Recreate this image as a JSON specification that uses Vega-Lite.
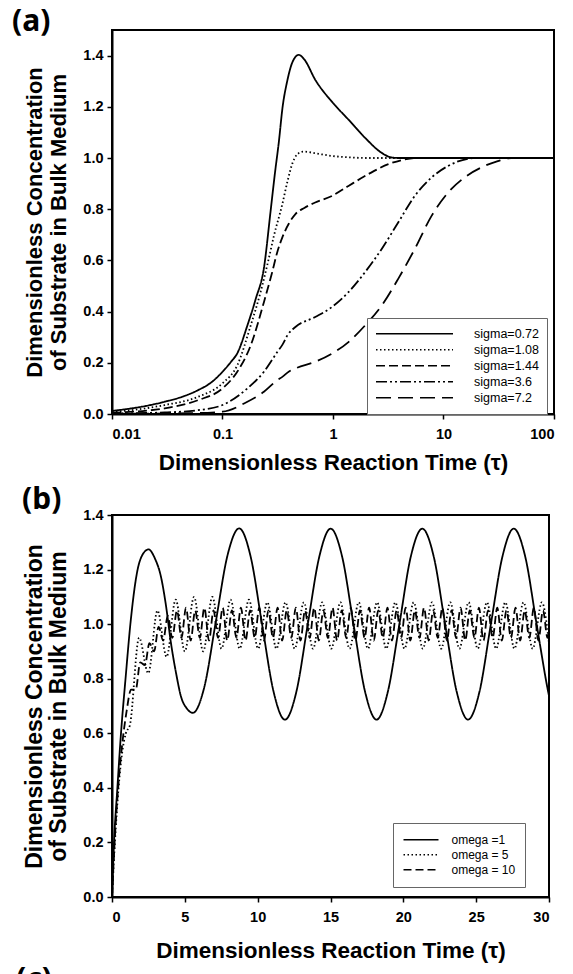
{
  "$schema": "https://vega.github.io/schema/vega-lite/v6.json",
  "background": "white",
  "padding": {"left": 11, "top": 6, "right": 5, "bottom": 5},
  "config": {
    "font": "Arial",
    "view": {"stroke": "black", "strokeWidth": 2},
    "axis": {
      "labelFont": "Arial", "labelFontWeight": "bold", "labelFontSize": 14.5, "labelColor": "black",
      "titleFont": "Arial", "titleFontWeight": "bold", "titleColor": "black",
      "tickColor": "black", "tickWidth": 1.5, "tickSize": 5,
      "domainColor": "black", "domainWidth": 2, "grid": false
    },
    "axisX": {"labelPadding": 8, "titleFontSize": 22.5},
    "axisY": {"labelPadding": 4, "titlePadding": 12, "titleFontSize": 22, "titleLineHeight": 24},
    "legend": {
      "orient": "none", "title": null, "symbolType": "stroke", "symbolStrokeColor": "black",
      "symbolStrokeWidth": 1.7, "labelFont": "Arial", "labelColor": "black",
      "labelFontWeight": "normal", "strokeColor": "#666666", "fillColor": "white", "rowPadding": 0
    },
    "title": {"font": "Noto Sans", "fontSize": 30, "fontWeight": "bold", "color": "black", "anchor": "start", "frame": "group", "baseline": "alphabetic", "offset": 0}
  },
  "bounds": "flush",
  "spacing": 101,
  "resolve": {"scale": {"strokeDash": "independent", "x": "independent", "y": "independent"}, "legend": {"strokeDash": "independent"}},
  "vconcat": [
    {
      "title": {"text": "(a)", "dx": -100, "dy": 11},
      "width": 442,
      "height": 384,
      "data": {"values": [
        {"s": "sigma=0.72", "t": 0.01, "v": 0.012},
        {"s": "sigma=0.72", "t": 0.02, "v": 0.031},
        {"s": "sigma=0.72", "t": 0.03, "v": 0.048},
        {"s": "sigma=0.72", "t": 0.045, "v": 0.07},
        {"s": "sigma=0.72", "t": 0.06, "v": 0.093},
        {"s": "sigma=0.72", "t": 0.08, "v": 0.125},
        {"s": "sigma=0.72", "t": 0.1, "v": 0.165},
        {"s": "sigma=0.72", "t": 0.12, "v": 0.205},
        {"s": "sigma=0.72", "t": 0.136, "v": 0.237},
        {"s": "sigma=0.72", "t": 0.168, "v": 0.346},
        {"s": "sigma=0.72", "t": 0.2, "v": 0.45},
        {"s": "sigma=0.72", "t": 0.237, "v": 0.57},
        {"s": "sigma=0.72", "t": 0.272, "v": 0.79},
        {"s": "sigma=0.72", "t": 0.3, "v": 0.95},
        {"s": "sigma=0.72", "t": 0.323, "v": 1.06},
        {"s": "sigma=0.72", "t": 0.35, "v": 1.2},
        {"s": "sigma=0.72", "t": 0.385, "v": 1.3},
        {"s": "sigma=0.72", "t": 0.43, "v": 1.375},
        {"s": "sigma=0.72", "t": 0.49, "v": 1.403},
        {"s": "sigma=0.72", "t": 0.55, "v": 1.385},
        {"s": "sigma=0.72", "t": 0.69, "v": 1.306},
        {"s": "sigma=0.72", "t": 1.0, "v": 1.215},
        {"s": "sigma=0.72", "t": 1.38, "v": 1.15},
        {"s": "sigma=0.72", "t": 1.95, "v": 1.079},
        {"s": "sigma=0.72", "t": 2.76, "v": 1.02},
        {"s": "sigma=0.72", "t": 3.4, "v": 1.002},
        {"s": "sigma=0.72", "t": 4.0, "v": 1.0},
        {"s": "sigma=0.72", "t": 10.0, "v": 1.0},
        {"s": "sigma=0.72", "t": 100.0, "v": 1.0},
        {"s": "sigma=1.08", "t": 0.01, "v": 0.008},
        {"s": "sigma=1.08", "t": 0.02, "v": 0.022},
        {"s": "sigma=1.08", "t": 0.03, "v": 0.035},
        {"s": "sigma=1.08", "t": 0.06, "v": 0.067},
        {"s": "sigma=1.08", "t": 0.1, "v": 0.12},
        {"s": "sigma=1.08", "t": 0.136, "v": 0.19},
        {"s": "sigma=1.08", "t": 0.18, "v": 0.346},
        {"s": "sigma=1.08", "t": 0.221, "v": 0.476},
        {"s": "sigma=1.08", "t": 0.26, "v": 0.6},
        {"s": "sigma=1.08", "t": 0.292, "v": 0.696},
        {"s": "sigma=1.08", "t": 0.348, "v": 0.82},
        {"s": "sigma=1.08", "t": 0.385, "v": 0.904},
        {"s": "sigma=1.08", "t": 0.43, "v": 0.98},
        {"s": "sigma=1.08", "t": 0.474, "v": 1.014},
        {"s": "sigma=1.08", "t": 0.54, "v": 1.025},
        {"s": "sigma=1.08", "t": 0.7, "v": 1.018},
        {"s": "sigma=1.08", "t": 0.98, "v": 1.008},
        {"s": "sigma=1.08", "t": 1.5, "v": 1.002},
        {"s": "sigma=1.08", "t": 1.95, "v": 1.0},
        {"s": "sigma=1.08", "t": 100.0, "v": 1.0},
        {"s": "sigma=1.44", "t": 0.01, "v": 0.005},
        {"s": "sigma=1.44", "t": 0.03, "v": 0.022},
        {"s": "sigma=1.44", "t": 0.06, "v": 0.054},
        {"s": "sigma=1.44", "t": 0.1, "v": 0.1},
        {"s": "sigma=1.44", "t": 0.136, "v": 0.165},
        {"s": "sigma=1.44", "t": 0.18, "v": 0.268},
        {"s": "sigma=1.44", "t": 0.237, "v": 0.437},
        {"s": "sigma=1.44", "t": 0.28, "v": 0.55},
        {"s": "sigma=1.44", "t": 0.313, "v": 0.632},
        {"s": "sigma=1.44", "t": 0.348, "v": 0.69},
        {"s": "sigma=1.44", "t": 0.4, "v": 0.745},
        {"s": "sigma=1.44", "t": 0.457, "v": 0.781},
        {"s": "sigma=1.44", "t": 0.55, "v": 0.805},
        {"s": "sigma=1.44", "t": 0.69, "v": 0.826},
        {"s": "sigma=1.44", "t": 0.98, "v": 0.852},
        {"s": "sigma=1.44", "t": 1.38, "v": 0.891},
        {"s": "sigma=1.44", "t": 2.09, "v": 0.937},
        {"s": "sigma=1.44", "t": 3.17, "v": 0.976},
        {"s": "sigma=1.44", "t": 4.3, "v": 0.993},
        {"s": "sigma=1.44", "t": 5.5, "v": 1.0},
        {"s": "sigma=1.44", "t": 100.0, "v": 1.0},
        {"s": "sigma=3.6", "t": 0.01, "v": 0.002},
        {"s": "sigma=3.6", "t": 0.03, "v": 0.006},
        {"s": "sigma=3.6", "t": 0.06, "v": 0.015},
        {"s": "sigma=3.6", "t": 0.1, "v": 0.035},
        {"s": "sigma=3.6", "t": 0.168, "v": 0.1},
        {"s": "sigma=3.6", "t": 0.237, "v": 0.165},
        {"s": "sigma=3.6", "t": 0.313, "v": 0.242},
        {"s": "sigma=3.6", "t": 0.348, "v": 0.27},
        {"s": "sigma=3.6", "t": 0.39, "v": 0.31},
        {"s": "sigma=3.6", "t": 0.457, "v": 0.34},
        {"s": "sigma=3.6", "t": 0.69, "v": 0.379},
        {"s": "sigma=3.6", "t": 0.98, "v": 0.418},
        {"s": "sigma=3.6", "t": 1.38, "v": 0.476},
        {"s": "sigma=3.6", "t": 1.95, "v": 0.554},
        {"s": "sigma=3.6", "t": 2.76, "v": 0.645},
        {"s": "sigma=3.6", "t": 3.89, "v": 0.748},
        {"s": "sigma=3.6", "t": 5.5, "v": 0.852},
        {"s": "sigma=3.6", "t": 7.8, "v": 0.924},
        {"s": "sigma=3.6", "t": 11.0, "v": 0.969},
        {"s": "sigma=3.6", "t": 16.6, "v": 0.997},
        {"s": "sigma=3.6", "t": 20.0, "v": 1.0},
        {"s": "sigma=3.6", "t": 100.0, "v": 1.0},
        {"s": "sigma=7.2", "t": 0.01, "v": 0.001},
        {"s": "sigma=7.2", "t": 0.05, "v": 0.003},
        {"s": "sigma=7.2", "t": 0.1, "v": 0.009},
        {"s": "sigma=7.2", "t": 0.168, "v": 0.048},
        {"s": "sigma=7.2", "t": 0.237, "v": 0.087},
        {"s": "sigma=7.2", "t": 0.313, "v": 0.132},
        {"s": "sigma=7.2", "t": 0.348, "v": 0.145},
        {"s": "sigma=7.2", "t": 0.4, "v": 0.166},
        {"s": "sigma=7.2", "t": 0.457, "v": 0.178},
        {"s": "sigma=7.2", "t": 0.69, "v": 0.204},
        {"s": "sigma=7.2", "t": 0.98, "v": 0.236},
        {"s": "sigma=7.2", "t": 1.38, "v": 0.281},
        {"s": "sigma=7.2", "t": 1.95, "v": 0.346},
        {"s": "sigma=7.2", "t": 2.76, "v": 0.424},
        {"s": "sigma=7.2", "t": 3.89, "v": 0.528},
        {"s": "sigma=7.2", "t": 5.5, "v": 0.645},
        {"s": "sigma=7.2", "t": 7.8, "v": 0.774},
        {"s": "sigma=7.2", "t": 11.0, "v": 0.865},
        {"s": "sigma=7.2", "t": 15.5, "v": 0.924},
        {"s": "sigma=7.2", "t": 22.0, "v": 0.963},
        {"s": "sigma=7.2", "t": 31.0, "v": 0.988},
        {"s": "sigma=7.2", "t": 41.0, "v": 1.0},
        {"s": "sigma=7.2", "t": 100.0, "v": 1.0}
      ]},
      "mark": {"type": "line", "color": "black", "strokeWidth": 1.8, "interpolate": "monotone", "clip": true},
      "encoding": {
        "x": {"field": "t", "type": "quantitative",
          "scale": {"type": "log", "domain": [0.01, 100], "nice": false},
          "axis": {"values": [0.01, 0.1, 1, 10, 100], "format": "~g", "title": "Dimensionless Reaction Time (τ)", "titlePadding": 11}},
        "y": {"field": "v", "type": "quantitative",
          "scale": {"domain": [0, 1.5], "nice": false},
          "axis": {"values": [0, 0.2, 0.4, 0.6, 0.8, 1.0, 1.2, 1.4], "format": ".1f", "title": ["Dimensionless Concentration", "of Substrate in Bulk Medium"]}},
        "strokeDash": {"field": "s", "type": "nominal",
          "scale": {"domain": ["sigma=0.72", "sigma=1.08", "sigma=1.44", "sigma=3.6", "sigma=7.2"],
                    "range": [[1, 0], [1.5, 2.5], [9, 4], [11, 3, 2, 3, 2, 3], [15, 7]]},
          "legend": {"legendX": 255, "legendY": 288, "symbolSize": 5929, "clipHeight": 15.5, "padding": 8, "labelOffset": 20, "labelFontSize": 12.5}}
      }
    },
    {
      "title": {"text": "(b)", "dx": -90, "dy": 12},
      "width": 437,
      "height": 382,
      "data": {"values": [
        {"o": "omega =1", "t": 0, "v": 0},
        {"o": "omega =1", "t": 0.14, "v": 0.2},
        {"o": "omega =1", "t": 0.37, "v": 0.4},
        {"o": "omega =1", "t": 0.6, "v": 0.587},
        {"o": "omega =1", "t": 0.94, "v": 0.807},
        {"o": "omega =1", "t": 1.29, "v": 1.015},
        {"o": "omega =1", "t": 1.75, "v": 1.198},
        {"o": "omega =1", "t": 2.1, "v": 1.255},
        {"o": "omega =1", "t": 2.51, "v": 1.274},
        {"o": "omega =1", "t": 2.95, "v": 1.24},
        {"o": "omega =1", "t": 3.36, "v": 1.174},
        {"o": "omega =1", "t": 3.7, "v": 1.07},
        {"o": "omega =1", "t": 4.05, "v": 0.93},
        {"o": "omega =1", "t": 4.4, "v": 0.82},
        {"o": "omega =1", "t": 4.74, "v": 0.734},
        {"o": "omega =1", "t": 5.15, "v": 0.69},
        {"o": "omega =1", "t": 5.55, "v": 0.675},
        {"o": "omega =1", "t": 6.34, "v": 0.77},
        {"o": "omega =1", "t": 7.13, "v": 1.01},
        {"o": "omega =1", "t": 7.92, "v": 1.25},
        {"o": "omega =1", "t": 8.73, "v": 1.351},
        {"o": "omega =1", "t": 9.52, "v": 1.247},
        {"o": "omega =1", "t": 10.3, "v": 1.0},
        {"o": "omega =1", "t": 11.09, "v": 0.753},
        {"o": "omega =1", "t": 11.87, "v": 0.65},
        {"o": "omega =1", "t": 12.66, "v": 0.753},
        {"o": "omega =1", "t": 13.44, "v": 1.0},
        {"o": "omega =1", "t": 14.23, "v": 1.247},
        {"o": "omega =1", "t": 15.01, "v": 1.35},
        {"o": "omega =1", "t": 15.8, "v": 1.247},
        {"o": "omega =1", "t": 16.58, "v": 1.0},
        {"o": "omega =1", "t": 17.37, "v": 0.753},
        {"o": "omega =1", "t": 18.16, "v": 0.65},
        {"o": "omega =1", "t": 18.94, "v": 0.753},
        {"o": "omega =1", "t": 19.73, "v": 1.0},
        {"o": "omega =1", "t": 20.51, "v": 1.247},
        {"o": "omega =1", "t": 21.3, "v": 1.35},
        {"o": "omega =1", "t": 22.09, "v": 1.247},
        {"o": "omega =1", "t": 22.87, "v": 1.0},
        {"o": "omega =1", "t": 23.66, "v": 0.753},
        {"o": "omega =1", "t": 24.44, "v": 0.65},
        {"o": "omega =1", "t": 25.23, "v": 0.753},
        {"o": "omega =1", "t": 26.01, "v": 1.0},
        {"o": "omega =1", "t": 26.8, "v": 1.247},
        {"o": "omega =1", "t": 27.58, "v": 1.35},
        {"o": "omega =1", "t": 28.37, "v": 1.247},
        {"o": "omega =1", "t": 29.15, "v": 1.0},
        {"o": "omega =1", "t": 29.94, "v": 0.753},
        {"o": "omega =1", "t": 30, "v": 0.737},
        {"o": "omega = 5", "t": 0, "v": 0},
        {"o": "omega = 5", "t": 0.2, "v": 0.2},
        {"o": "omega = 5", "t": 0.45, "v": 0.4},
        {"o": "omega = 5", "t": 0.7, "v": 0.53},
        {"o": "omega = 5", "t": 0.95, "v": 0.6},
        {"o": "omega = 5", "t": 1.23, "v": 0.63},
        {"o": "omega = 5", "t": 1.86, "v": 0.95},
        {"o": "omega = 5", "t": 2.49, "v": 0.82},
        {"o": "omega = 5", "t": 3.12, "v": 1.05},
        {"o": "omega = 5", "t": 3.75, "v": 0.88},
        {"o": "omega = 5", "t": 4.37, "v": 1.09},
        {"o": "omega = 5", "t": 5.0, "v": 0.9},
        {"o": "omega = 5", "t": 5.63, "v": 1.1},
        {"o": "omega = 5", "t": 6.26, "v": 0.9},
        {"o": "omega = 5", "t": 6.89, "v": 1.1},
        {"o": "omega = 5", "t": 7.52, "v": 0.91},
        {"o": "omega = 5", "t": 8.14, "v": 1.09},
        {"o": "omega = 5", "t": 8.77, "v": 0.91},
        {"o": "omega = 5", "t": 9.4, "v": 1.09},
        {"o": "omega = 5", "t": 10.03, "v": 0.91},
        {"o": "omega = 5", "t": 10.66, "v": 1.08},
        {"o": "omega = 5", "t": 11.29, "v": 0.91},
        {"o": "omega = 5", "t": 11.91, "v": 1.08},
        {"o": "omega = 5", "t": 12.54, "v": 0.91},
        {"o": "omega = 5", "t": 13.17, "v": 1.08},
        {"o": "omega = 5", "t": 13.8, "v": 0.91},
        {"o": "omega = 5", "t": 14.43, "v": 1.08},
        {"o": "omega = 5", "t": 15.06, "v": 0.91},
        {"o": "omega = 5", "t": 15.68, "v": 1.08},
        {"o": "omega = 5", "t": 16.31, "v": 0.91},
        {"o": "omega = 5", "t": 16.94, "v": 1.08},
        {"o": "omega = 5", "t": 17.57, "v": 0.91},
        {"o": "omega = 5", "t": 18.2, "v": 1.08},
        {"o": "omega = 5", "t": 18.83, "v": 0.91},
        {"o": "omega = 5", "t": 19.45, "v": 1.08},
        {"o": "omega = 5", "t": 20.08, "v": 0.91},
        {"o": "omega = 5", "t": 20.71, "v": 1.08},
        {"o": "omega = 5", "t": 21.34, "v": 0.91},
        {"o": "omega = 5", "t": 21.97, "v": 1.08},
        {"o": "omega = 5", "t": 22.6, "v": 0.91},
        {"o": "omega = 5", "t": 23.22, "v": 1.08},
        {"o": "omega = 5", "t": 23.85, "v": 0.91},
        {"o": "omega = 5", "t": 24.48, "v": 1.08},
        {"o": "omega = 5", "t": 25.11, "v": 0.91},
        {"o": "omega = 5", "t": 25.74, "v": 1.08},
        {"o": "omega = 5", "t": 26.37, "v": 0.91},
        {"o": "omega = 5", "t": 27.0, "v": 1.08},
        {"o": "omega = 5", "t": 27.63, "v": 0.91},
        {"o": "omega = 5", "t": 28.25, "v": 1.08},
        {"o": "omega = 5", "t": 28.88, "v": 0.91},
        {"o": "omega = 5", "t": 29.51, "v": 1.08},
        {"o": "omega = 5", "t": 30.0, "v": 0.93},
        {"o": "omega = 10", "t": 0, "v": 0},
        {"o": "omega = 10", "t": 0.2, "v": 0.22},
        {"o": "omega = 10", "t": 0.45, "v": 0.42},
        {"o": "omega = 10", "t": 0.7, "v": 0.56},
        {"o": "omega = 10", "t": 1.0, "v": 0.68},
        {"o": "omega = 10", "t": 1.31, "v": 0.76},
        {"o": "omega = 10", "t": 1.63, "v": 0.76},
        {"o": "omega = 10", "t": 1.94, "v": 0.86},
        {"o": "omega = 10", "t": 2.26, "v": 0.85},
        {"o": "omega = 10", "t": 2.57, "v": 0.93},
        {"o": "omega = 10", "t": 2.89, "v": 0.9},
        {"o": "omega = 10", "t": 3.2, "v": 0.99},
        {"o": "omega = 10", "t": 3.51, "v": 0.94},
        {"o": "omega = 10", "t": 3.83, "v": 1.03},
        {"o": "omega = 10", "t": 4.14, "v": 0.95},
        {"o": "omega = 10", "t": 4.46, "v": 1.05},
        {"o": "omega = 10", "t": 4.77, "v": 0.95},
        {"o": "omega = 10", "t": 5.08, "v": 1.06},
        {"o": "omega = 10", "t": 5.4, "v": 0.94},
        {"o": "omega = 10", "t": 5.71, "v": 1.05},
        {"o": "omega = 10", "t": 6.03, "v": 0.95},
        {"o": "omega = 10", "t": 6.34, "v": 1.06},
        {"o": "omega = 10", "t": 6.66, "v": 0.94},
        {"o": "omega = 10", "t": 6.97, "v": 1.05},
        {"o": "omega = 10", "t": 7.28, "v": 0.95},
        {"o": "omega = 10", "t": 7.6, "v": 1.06},
        {"o": "omega = 10", "t": 7.91, "v": 0.94},
        {"o": "omega = 10", "t": 8.23, "v": 1.05},
        {"o": "omega = 10", "t": 8.54, "v": 0.95},
        {"o": "omega = 10", "t": 8.85, "v": 1.06},
        {"o": "omega = 10", "t": 9.17, "v": 0.94},
        {"o": "omega = 10", "t": 9.48, "v": 1.05},
        {"o": "omega = 10", "t": 9.8, "v": 0.95},
        {"o": "omega = 10", "t": 10.11, "v": 1.06},
        {"o": "omega = 10", "t": 10.43, "v": 0.94},
        {"o": "omega = 10", "t": 10.74, "v": 1.05},
        {"o": "omega = 10", "t": 11.05, "v": 0.95},
        {"o": "omega = 10", "t": 11.37, "v": 1.06},
        {"o": "omega = 10", "t": 11.68, "v": 0.94},
        {"o": "omega = 10", "t": 12.0, "v": 1.05},
        {"o": "omega = 10", "t": 12.31, "v": 0.95},
        {"o": "omega = 10", "t": 12.62, "v": 1.06},
        {"o": "omega = 10", "t": 12.94, "v": 0.94},
        {"o": "omega = 10", "t": 13.25, "v": 1.05},
        {"o": "omega = 10", "t": 13.57, "v": 0.95},
        {"o": "omega = 10", "t": 13.88, "v": 1.06},
        {"o": "omega = 10", "t": 14.2, "v": 0.94},
        {"o": "omega = 10", "t": 14.51, "v": 1.05},
        {"o": "omega = 10", "t": 14.82, "v": 0.95},
        {"o": "omega = 10", "t": 15.14, "v": 1.06},
        {"o": "omega = 10", "t": 15.45, "v": 0.94},
        {"o": "omega = 10", "t": 15.77, "v": 1.05},
        {"o": "omega = 10", "t": 16.08, "v": 0.95},
        {"o": "omega = 10", "t": 16.39, "v": 1.06},
        {"o": "omega = 10", "t": 16.71, "v": 0.94},
        {"o": "omega = 10", "t": 17.02, "v": 1.05},
        {"o": "omega = 10", "t": 17.34, "v": 0.95},
        {"o": "omega = 10", "t": 17.65, "v": 1.06},
        {"o": "omega = 10", "t": 17.97, "v": 0.94},
        {"o": "omega = 10", "t": 18.28, "v": 1.05},
        {"o": "omega = 10", "t": 18.59, "v": 0.95},
        {"o": "omega = 10", "t": 18.91, "v": 1.06},
        {"o": "omega = 10", "t": 19.22, "v": 0.94},
        {"o": "omega = 10", "t": 19.54, "v": 1.05},
        {"o": "omega = 10", "t": 19.85, "v": 0.95},
        {"o": "omega = 10", "t": 20.16, "v": 1.06},
        {"o": "omega = 10", "t": 20.48, "v": 0.94},
        {"o": "omega = 10", "t": 20.79, "v": 1.05},
        {"o": "omega = 10", "t": 21.11, "v": 0.95},
        {"o": "omega = 10", "t": 21.42, "v": 1.06},
        {"o": "omega = 10", "t": 21.74, "v": 0.94},
        {"o": "omega = 10", "t": 22.05, "v": 1.05},
        {"o": "omega = 10", "t": 22.36, "v": 0.95},
        {"o": "omega = 10", "t": 22.68, "v": 1.06},
        {"o": "omega = 10", "t": 22.99, "v": 0.94},
        {"o": "omega = 10", "t": 23.31, "v": 1.05},
        {"o": "omega = 10", "t": 23.62, "v": 0.95},
        {"o": "omega = 10", "t": 23.93, "v": 1.06},
        {"o": "omega = 10", "t": 24.25, "v": 0.94},
        {"o": "omega = 10", "t": 24.56, "v": 1.05},
        {"o": "omega = 10", "t": 24.88, "v": 0.95},
        {"o": "omega = 10", "t": 25.19, "v": 1.06},
        {"o": "omega = 10", "t": 25.5, "v": 0.94},
        {"o": "omega = 10", "t": 25.82, "v": 1.05},
        {"o": "omega = 10", "t": 26.13, "v": 0.95},
        {"o": "omega = 10", "t": 26.45, "v": 1.06},
        {"o": "omega = 10", "t": 26.76, "v": 0.94},
        {"o": "omega = 10", "t": 27.08, "v": 1.05},
        {"o": "omega = 10", "t": 27.39, "v": 0.95},
        {"o": "omega = 10", "t": 27.7, "v": 1.06},
        {"o": "omega = 10", "t": 28.02, "v": 0.94},
        {"o": "omega = 10", "t": 28.33, "v": 1.05},
        {"o": "omega = 10", "t": 28.65, "v": 0.95},
        {"o": "omega = 10", "t": 28.96, "v": 1.06},
        {"o": "omega = 10", "t": 29.27, "v": 0.94},
        {"o": "omega = 10", "t": 29.59, "v": 1.05},
        {"o": "omega = 10", "t": 29.9, "v": 0.95},
        {"o": "omega = 10", "t": 30.0, "v": 0.97}
      ]},
      "mark": {"type": "line", "color": "black", "strokeWidth": 1.8, "interpolate": "monotone", "clip": true},
      "encoding": {
        "x": {"field": "t", "type": "quantitative",
          "scale": {"domain": [0, 30], "nice": false},
          "axis": {"values": [0, 5, 10, 15, 20, 25, 30], "format": "d", "title": "Dimensionless Reaction Time (τ)", "titlePadding": 16}},
        "y": {"field": "v", "type": "quantitative",
          "scale": {"domain": [0, 1.4], "nice": false},
          "axis": {"values": [0, 0.2, 0.4, 0.6, 0.8, 1.0, 1.2, 1.4], "format": ".1f", "titleFontSize": 23, "titleLineHeight": 24, "title": ["Dimensionless Concentration", "of Substrate in Bulk Medium"]}},
        "strokeDash": {"field": "o", "type": "nominal",
          "scale": {"domain": ["omega =1", "omega = 5", "omega = 10"],
                    "range": [[1, 0], [1.5, 2.5], [8, 4]]},
          "legend": {"legendX": 281, "legendY": 308, "symbolSize": 1225, "clipHeight": 14.5, "padding": 9.5, "labelOffset": 12, "labelFontSize": 12}}
      }
    },
    {
      "title": {"text": "(c)", "dx": -96, "offset": 3},
      "width": 437,
      "height": 10,
      "view": {"stroke": null},
      "data": {"values": []},
      "mark": {"type": "text", "text": ""},
      "encoding": {}
    }
  ]
}
